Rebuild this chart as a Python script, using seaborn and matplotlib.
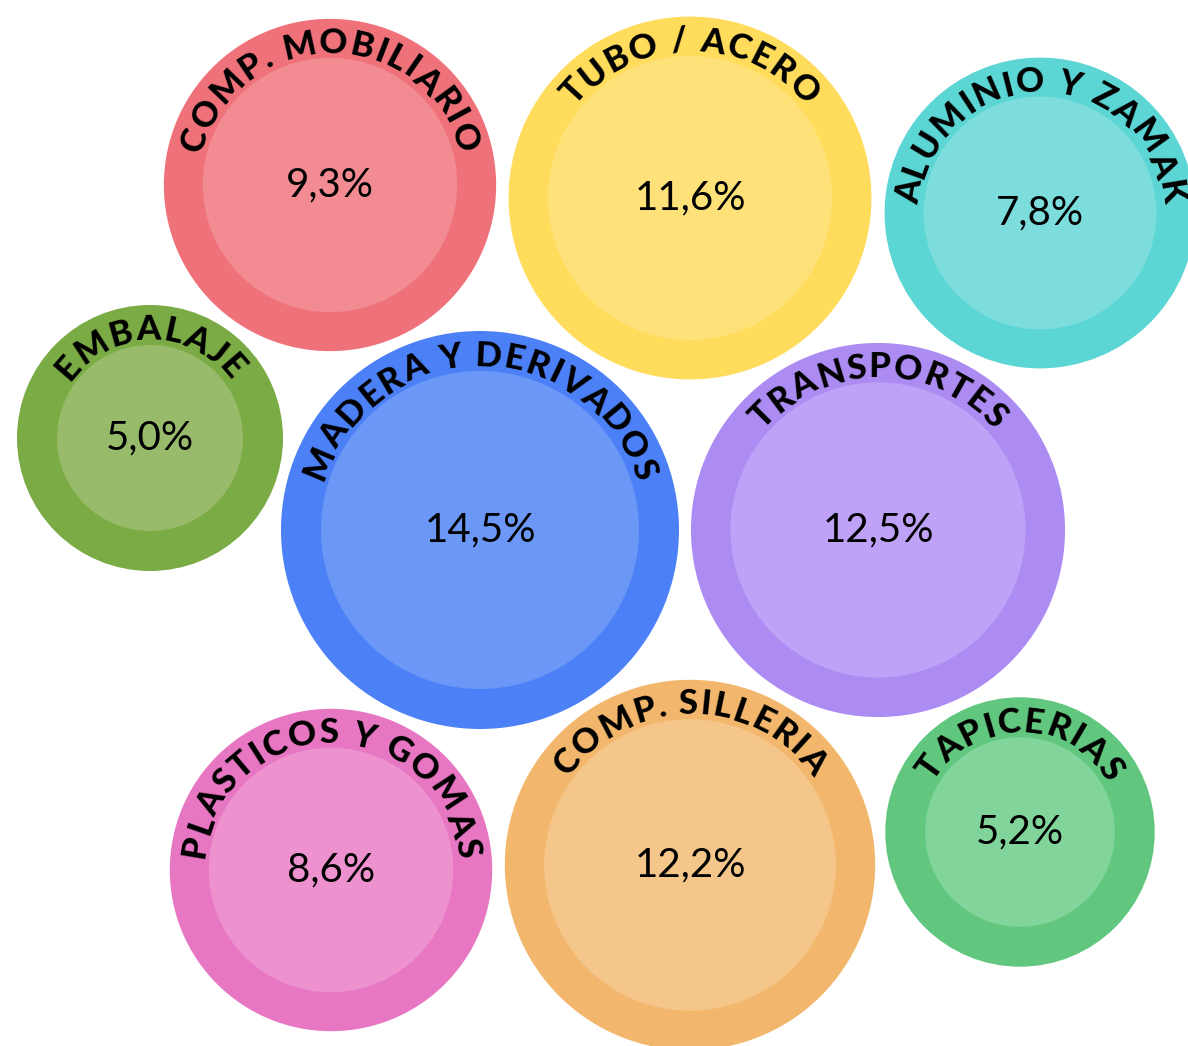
import numpy as np
import pandas as pd
import seaborn as sns
import matplotlib.pyplot as plt
from matplotlib.font_manager import FontProperties
from matplotlib.textpath import text_to_path

categories = ["COMP. MOBILIARIO", "TUBO / ACERO", "ALUMINIO Y ZAMAK", "EMBALAJE",
              "MADERA Y DERIVADOS", "TRANSPORTES", "PLASTICOS Y GOMAS",
              "COMP. SILLERIA", "TAPICERIAS"]
shares = [9.3, 11.6, 7.8, 5.0, 14.5, 12.5, 8.6, 12.2, 5.2]
pos_x = [330, 690, 1040, 150, 480, 878, 331, 690, 1020]
pos_y = [185, 198, 213, 438, 530, 530, 870, 865, 832]

outer_colors = ["#EF727B", "#FFDC5B", "#5CD5D5", "#7BAB44", "#4B80F6",
                "#AC8BF2", "#E777C2", "#F2B76C", "#61C77E"]
inner_colors = ["#F28C92", "#FFE17A", "#7DDDDD", "#97BB6A", "#6B98F7",
                "#BEA2F7", "#EE91CF", "#F5C68A", "#81D49A"]

df = pd.DataFrame({"categoria": categories, "share": shares, "x": pos_x, "y": pos_y})

W, H, DPI = 1188, 1046, 100
PX = DPI / 72.0
outer_sizes = (36680, 82117)   # marker area (pt^2) at min / max share
inner_sizes = (17935, 52423)
norm = (min(shares), max(shares))

sns.set_style("white")
fig = plt.figure(figsize=(W / DPI, H / DPI), dpi=DPI)
ax = fig.add_axes([0, 0, 1, 1])

sns.scatterplot(data=df, x="x", y="y", hue="categoria", size="share",
                palette=dict(zip(categories, outer_colors)), sizes=outer_sizes,
                size_norm=norm, linewidth=0, legend=False, ax=ax)
sns.scatterplot(data=df, x="x", y="y", hue="categoria", size="share",
                palette=dict(zip(categories, inner_colors)), sizes=inner_sizes,
                size_norm=norm, linewidth=0, legend=False, ax=ax)

ax.set_xlim(0, W)
ax.set_ylim(H, 0)
ax.axis("off")

label_font = FontProperties(family="Lato", weight="black", size=25)
track = 1.5  # extra px between letters


def text_w(s):
    w, _, _ = text_to_path.get_text_width_height_descent(s, label_font, ismath=False)
    return w * PX


def curved_label(txt, cx, cy, r):
    n = len(txt)
    edges = [text_w(txt[:i]) + track * i for i in range(n + 1)]
    total = edges[-1] - track
    for i, ch in enumerate(txt):
        if ch == " ":
            continue
        mid = edges[i] + (text_w(txt[:i + 1]) - text_w(txt[:i])) / 2
        off = mid - total / 2
        th = np.pi / 2 - off / r
        ax.text(cx + r * np.cos(th), cy - r * np.sin(th), ch,
                fontproperties=label_font, color="black",
                rotation=np.degrees(th) - 90, rotation_mode="anchor",
                ha="center", va="baseline")


for cat, v, cx, cy in zip(categories, shares, pos_x, pos_y):
    t = (v - norm[0]) / (norm[1] - norm[0])
    s_in = inner_sizes[0] + t * (inner_sizes[1] - inner_sizes[0])
    r_in = np.sqrt(s_in) / 2 * PX
    curved_label(cat, cx, cy, r_in + 5)
    ax.text(cx, cy, f"{v:.1f}%".replace(".", ","), fontsize=29, family="Lato",
            fontweight="normal", color="black", ha="center", va="center")

fig.savefig("out.png", dpi=DPI)
